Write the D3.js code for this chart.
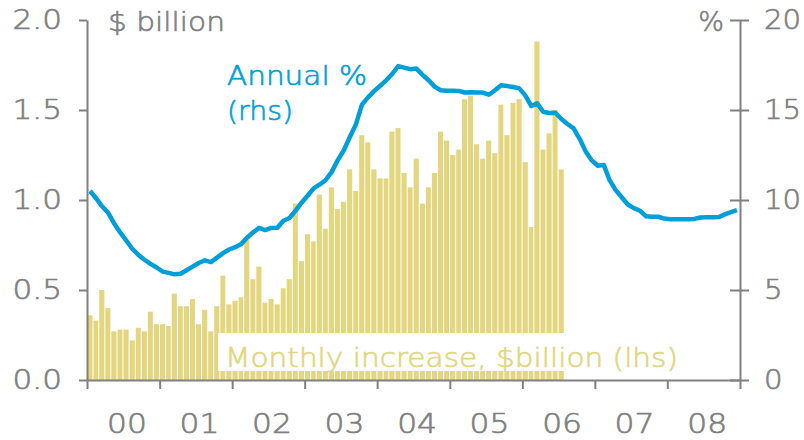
<!DOCTYPE html>
<html lang="en">
<head>
    <meta charset="UTF-8">
    <title>Credit growth</title>
    <script src="https://cdn.jsdelivr.net/npm/d3@7"></script>
    <style>
        body { margin: 0; background: #fff; }
        text { font-family: 'DejaVu Sans', sans-serif; font-weight: 200; stroke-width: 0.65px; }
    </style>
</head>
<body>
<script>
    // monthly increase, $ billion (lhs) - Jan 2000 to Jul 2006
    const monthlyIncrease = [
        0.36, 0.33, 0.50, 0.40, 0.27, 0.28, 0.28, 0.22, 0.29, 0.27, 0.38, 0.31,
        0.31, 0.30, 0.48, 0.41, 0.41, 0.45, 0.31, 0.39, 0.27, 0.41, 0.58, 0.42,
        0.44, 0.46, 0.78, 0.56, 0.63, 0.43, 0.45, 0.42, 0.51, 0.56, 0.98, 0.66,
        0.81, 0.77, 1.03, 0.84, 1.07, 0.95, 0.99, 1.17, 1.05, 1.36, 1.32, 1.17,
        1.12, 1.12, 1.38, 1.40, 1.15, 1.07, 1.23, 0.98, 1.07, 1.15, 1.38, 1.33,
        1.25, 1.28, 1.56, 1.58, 1.31, 1.23, 1.33, 1.26, 1.53, 1.36, 1.54, 1.56,
        1.21, 0.85, 1.88, 1.28, 1.37, 1.50, 1.17
    ]

    // annual %, rhs - Jan 2000 to Dec 2008
    const annualPct = [
        10.5, 10.1, 9.65, 9.3, 8.7, 8.2, 7.75, 7.28, 6.95, 6.68, 6.45, 6.25,
        6.02, 5.95, 5.87, 5.9, 6.1, 6.3, 6.5, 6.65, 6.55, 6.8, 7.05, 7.25,
        7.38, 7.55, 7.9, 8.2, 8.45, 8.33, 8.45, 8.46, 8.85, 9.0, 9.4, 9.85,
        10.25, 10.65, 10.85, 11.1, 11.55, 12.2, 12.75, 13.5, 14.2, 15.3, 15.7, 16.05,
        16.35, 16.65, 17.0, 17.44, 17.35, 17.27, 17.3, 16.95, 16.65, 16.3, 16.1, 16.07,
        16.07, 16.06, 15.97, 15.98, 15.97, 15.97, 15.85, 16.1, 16.38, 16.33, 16.28, 16.2,
        15.8, 15.22, 15.37, 14.9, 14.83, 14.85, 14.5, 14.22, 13.98, 13.4, 12.7, 12.2,
        11.9, 11.95, 11.1, 10.55, 10.15, 9.75, 9.55, 9.4, 9.1, 9.07, 9.07, 8.97,
        8.93, 8.93, 8.93, 8.93, 8.95, 9.03, 9.04, 9.04, 9.05, 9.2, 9.33, 9.44
    ]

    const yearLabels = ['00', '01', '02', '03', '04', '05', '06', '07', '08']
    const leftTicks = [0, 0.5, 1, 1.5, 2]
    const rightTicks = [0, 5, 10, 15, 20]

    const width = 804
    const height = 440
    const grey = '#808080'
    const sand = '#e3d67f'
    const blue = '#009fda'

    const start = new Date(2000, 0, 1)
    const month = (i) => d3.timeMonth.offset(start, i)

    const x = d3.scaleTime()
        .domain([start, new Date(2009, 0, 1)])
        .range([87, 740])

    const yL = d3.scaleLinear().domain([0, 2]).range([380, 20])
    const yR = d3.scaleLinear().domain([0, 20]).range([380, 20])

    const svg = d3.select('body')
        .append('svg')
        .attr('width', width)
        .attr('height', height)

    // the reference type is set wider than DejaVu, so stretch text a little
    function stretch(sel, k) {
        sel.each(function () {
            const w = this.getComputedTextLength()
            d3.select(this)
                .attr('textLength', w * k)
                .attr('lengthAdjust', 'spacingAndGlyphs')
        })
    }

    // bars
    svg.append('g')
        .selectAll('rect')
        .data(monthlyIncrease)
        .enter()
        .append('rect')
        .attr('x', (d, i) => x(month(i)) + 0.3)
        .attr('y', (d) => yL(d))
        .attr('width', (d, i) => x(month(i + 1)) - x(month(i)) - 1)
        .attr('height', (d) => yL(0) - yL(d))
        .attr('fill', sand)

    // legend box over the bars
    svg.append('rect')
        .attr('x', 218)
        .attr('y', 333)
        .attr('width', 466)
        .attr('height', 38)
        .attr('fill', '#fff')

    svg.append('text')
        .attr('x', 225)
        .attr('y', 367)
        .attr('font-size', 27)
        .attr('fill', sand)
        .attr('stroke', sand)
        .text('Monthly increase, $billion (lhs)')
        .attr('textLength', 453)
        .attr('lengthAdjust', 'spacingAndGlyphs')

    // annual line
    const line = d3.line()
        .x((d, i) => (x(month(i)) + x(month(i + 1))) / 2)
        .y((d) => yR(d))

    svg.append('path')
        .datum(annualPct)
        .attr('d', line)
        .attr('fill', 'none')
        .attr('stroke', blue)
        .attr('stroke-width', 4.5)
        .attr('stroke-linejoin', 'round')

    svg.append('text')
        .attr('x', 227)
        .attr('y', 85)
        .attr('font-size', 27)
        .attr('fill', blue)
        .attr('stroke', blue)
        .text('Annual %')
        .attr('textLength', 140)
        .attr('lengthAdjust', 'spacingAndGlyphs')

    svg.append('text')
        .attr('x', 227)
        .attr('y', 120)
        .attr('font-size', 27)
        .attr('fill', blue)
        .attr('stroke', blue)
        .text('(rhs)')
        .attr('textLength', 66)
        .attr('lengthAdjust', 'spacingAndGlyphs')

    // axes
    const styleAxis = (g) => {
        g.select('.domain').attr('stroke', grey).attr('stroke-width', 2)
        g.selectAll('.tick line').attr('stroke', grey).attr('stroke-width', 2)
        g.selectAll('.tick text')
            .attr('fill', grey)
            .attr('stroke', grey)
            .attr('font-size', 27)
            .attr('font-family', null)
    }

    svg.append('g')
        .attr('transform', 'translate(87,0)')
        .call(d3.axisLeft(yL)
            .tickValues(leftTicks)
            .tickFormat(d3.format('.1f'))
            .tickSize(8)
            .tickSizeOuter(0)
            .tickPadding(17))
        .call(styleAxis)
        .call((g) => stretch(g.selectAll('.tick text'), 1.15))

    svg.append('g')
        .attr('transform', 'translate(740,0)')
        .call(d3.axisRight(yR)
            .tickValues(rightTicks)
            .tickSize(9)
            .tickSizeOuter(0)
            .tickPadding(15))
        .call(styleAxis)
        .call((g) => g.selectAll('.tick line').attr('x1', -10))
        .call((g) => stretch(g.selectAll('.tick text'), 1.08))

    svg.append('g')
        .attr('transform', 'translate(0,380)')
        .call(d3.axisBottom(x)
            .ticks(d3.timeYear.every(1))
            .tickFormat('')
            .tickSize(9)
            .tickSizeOuter(0))
        .call(styleAxis)

    svg.append('g')
        .selectAll('text')
        .data(yearLabels)
        .enter()
        .append('text')
        .attr('x', (d, i) => x(new Date(2000 + i, 6, 20)))
        .attr('y', 433)
        .attr('text-anchor', 'middle')
        .attr('font-size', 27)
        .attr('fill', grey)
        .attr('stroke', grey)
        .text((d) => d)
        .call((sel) => stretch(sel, 1.16))

    svg.append('text')
        .attr('x', 108)
        .attr('y', 31)
        .attr('font-size', 27)
        .attr('fill', grey)
        .attr('stroke', grey)
        .text('$ billion')
        .attr('textLength', 117)
        .attr('lengthAdjust', 'spacingAndGlyphs')

    svg.append('text')
        .attr('x', 724)
        .attr('y', 31)
        .attr('text-anchor', 'end')
        .attr('font-size', 27)
        .attr('fill', grey)
        .attr('stroke', grey)
        .text('%')
</script>
</body>
</html>
